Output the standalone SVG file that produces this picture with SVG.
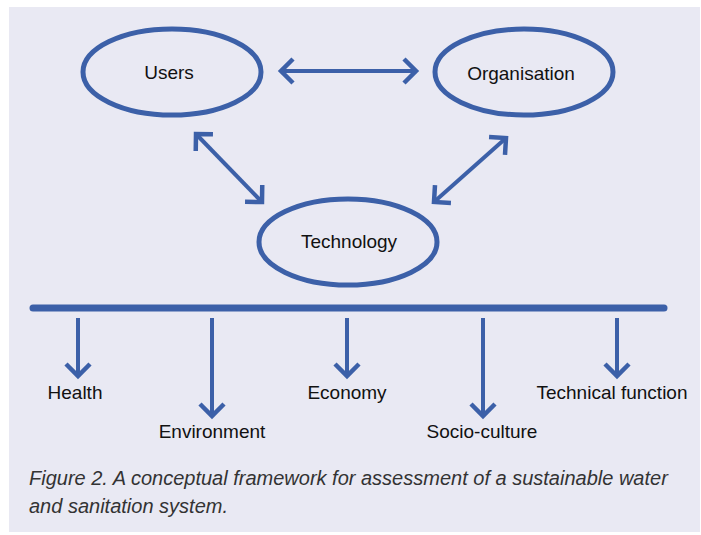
<svg xmlns="http://www.w3.org/2000/svg" width="701" height="535" viewBox="0 0 701 535">
  <defs>
    <style>
      .node { fill: none; stroke: #3c60a8; stroke-width: 5; }
      .lbl { font-family: "Liberation Sans", Arial, sans-serif; font-size: 19px; fill: #111; text-anchor: middle; }
      .conn { stroke: #3c60a8; stroke-width: 4; fill: none; }
      .bar { stroke: #3c60a8; stroke-width: 7; stroke-linecap: round; fill: none; }
      .cap { font-family: "Liberation Sans", Arial, sans-serif; font-size: 20px; font-style: italic; fill: #333; }
    </style>
    <marker id="chev" viewBox="-16 -14 20 28" markerWidth="20" markerHeight="28" refX="0" refY="0" markerUnits="userSpaceOnUse" orient="auto-start-reverse">
      <path d="M -12 -12 L 0 0 L -12 12" fill="none" stroke="#3c60a8" stroke-width="4.5"/>
    </marker>
  </defs>
  <rect x="0" y="0" width="701" height="535" fill="#ffffff"/>
  <rect x="9" y="7" width="691" height="525" fill="#e9e9f3"/>

  <g id="connectors">
    <line class="conn" x1="281" y1="71" x2="416" y2="71" marker-start="url(#chev)" marker-end="url(#chev)"/>
    <line class="conn" x1="196" y1="134" x2="262" y2="202" marker-start="url(#chev)" marker-end="url(#chev)"/>
    <line class="conn" x1="506" y1="138" x2="434" y2="202" marker-start="url(#chev)" marker-end="url(#chev)"/>
    <line class="bar" x1="33" y1="308" x2="664" y2="308"/>
    <line class="conn" x1="78" y1="318" x2="78" y2="376" marker-end="url(#chev)"/>
    <line class="conn" x1="212" y1="318" x2="212" y2="416" marker-end="url(#chev)"/>
    <line class="conn" x1="347" y1="318" x2="347" y2="376" marker-end="url(#chev)"/>
    <line class="conn" x1="483" y1="318" x2="483" y2="416" marker-end="url(#chev)"/>
    <line class="conn" x1="617" y1="318" x2="617" y2="376" marker-end="url(#chev)"/>
  </g>

  <g id="users">
    <ellipse class="node" cx="172" cy="72" rx="89" ry="43"/>
    <text class="lbl" x="169" y="79">Users</text>
  </g>
  <g id="organisation">
    <ellipse class="node" cx="524" cy="72" rx="89" ry="43"/>
    <text class="lbl" x="521" y="80">Organisation</text>
  </g>
  <g id="technology">
    <ellipse class="node" cx="348" cy="242" rx="89" ry="43"/>
    <text class="lbl" x="349" y="248">Technology</text>
  </g>

  <g id="health"><text class="lbl" x="75" y="399">Health</text></g>
  <g id="environment"><text class="lbl" x="212" y="438">Environment</text></g>
  <g id="economy"><text class="lbl" x="347" y="399">Economy</text></g>
  <g id="socio-culture"><text class="lbl" x="482" y="438">Socio-culture</text></g>
  <g id="technical-function"><text class="lbl" x="612" y="399">Technical function</text></g>

  <g id="caption">
    <text class="cap" x="29" y="485">Figure 2. A conceptual framework for assessment of a sustainable water</text>
    <text class="cap" x="29" y="513">and sanitation system.</text>
  </g>
</svg>
